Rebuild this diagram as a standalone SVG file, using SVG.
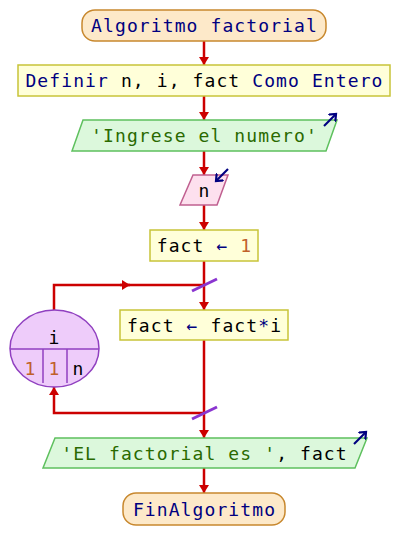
<svg xmlns="http://www.w3.org/2000/svg" width="400" height="558" viewBox="0 0 400 558">
<style>
text{font-family:"DejaVu Sans Mono","Liberation Mono",monospace;font-size:18px;letter-spacing:1.1px;text-anchor:middle;fill:#000}
.kw{fill:#000080}
.str{fill:#2a6a00}
.num{fill:#c0602a}
.term{fill:#fde9c9;stroke:#c8882e;stroke-width:1.5}
.proc{fill:#ffffd9;stroke:#c8c438;stroke-width:1.5}
.out{fill:#dcf8dc;stroke:#5ec05e;stroke-width:1.5}
.inp{fill:#fde0ee;stroke:#c06090;stroke-width:1.5}
.loop{fill:#eeccfa;stroke:#9040c0;stroke-width:1.5}
.edge{fill:none;stroke:#cc0000;stroke-width:2.5}
.slash{stroke:#8a35d0;stroke-width:3}
.icon{stroke:#000080;stroke-width:2.2;fill:none}
</style>
<defs>
<marker id="ah" markerUnits="userSpaceOnUse" markerWidth="12" markerHeight="10" refX="8" refY="5" orient="auto">
<path d="M0,0 L8,5 L0,10 Z" fill="#cc0000"/>
</marker>
<marker id="ih" markerUnits="userSpaceOnUse" markerWidth="10" markerHeight="10" refX="6" refY="5" orient="auto">
<path d="M0,0 L6,5 L0,10" fill="none" stroke="#000080" stroke-width="2.2"/>
</marker>
</defs>
<g id="connectors">
<line class="edge" x1="204" y1="41" x2="204" y2="65" marker-end="url(#ah)"/>
<line class="edge" x1="204" y1="96" x2="204" y2="120" marker-end="url(#ah)"/>
<line class="edge" x1="204" y1="151" x2="204" y2="175" marker-end="url(#ah)"/>
<line class="edge" x1="204" y1="205" x2="204" y2="230" marker-end="url(#ah)"/>
<line class="edge" x1="204" y1="261" x2="204" y2="310" marker-end="url(#ah)"/>
<polyline class="edge" points="54,310 54,285 204,285"/>
<line class="edge" x1="120" y1="285" x2="130" y2="285" marker-end="url(#ah)"/>
<line class="edge" x1="204" y1="340" x2="204" y2="438" marker-end="url(#ah)"/>
<polyline class="edge" points="204,413 54,413 54,387" marker-end="url(#ah)"/>
<line class="edge" x1="204" y1="468" x2="204" y2="493" marker-end="url(#ah)"/>
<line class="slash" x1="192" y1="291" x2="217" y2="279"/>
<line class="slash" x1="192" y1="419" x2="217" y2="407"/>
</g>
<g id="start">
<rect class="term" x="82" y="10" width="244" height="31" rx="13"/>
<text class="kw" x="204.5" y="32">Algoritmo factorial</text>
</g>
<g id="define">
<rect class="proc" x="18" y="65" width="372" height="31"/>
<text x="204.5" y="87"><tspan class="kw">Definir</tspan> n, i, fact <tspan class="kw">Como Entero</tspan></text>
</g>
<g id="write1">
<polygon class="out" points="83,120 337,120 326,151 72,151"/>
<text class="str" x="204.5" y="142">'Ingrese el numero'</text>
<line class="icon" x1="324" y1="126" x2="336" y2="114" marker-end="url(#ih)"/>
</g>
<g id="read">
<polygon class="inp" points="193,175 228,175 217,205 180,205"/>
<text x="204.5" y="196.5">n</text>
<line class="icon" x1="228" y1="169" x2="216" y2="181" marker-end="url(#ih)"/>
</g>
<g id="assign1">
<rect class="proc" x="150" y="230" width="108" height="31"/>
<text x="204.5" y="252">fact <tspan class="kw">←</tspan> <tspan class="num">1</tspan></text>
</g>
<g id="loop">
<ellipse class="loop" cx="54.5" cy="348.5" rx="44.5" ry="38.5"/>
<line class="loop" x1="10" y1="349" x2="99" y2="349"/>
<line class="loop" x1="43" y1="349" x2="43" y2="383"/>
<line class="loop" x1="67" y1="349" x2="67" y2="383"/>
<text x="54.5" y="343.5">i</text>
<text class="num" x="30.5" y="374.5">1</text>
<text class="num" x="54.5" y="374.5">1</text>
<text x="78.5" y="374.5">n</text>
</g>
<g id="assign2">
<rect class="proc" x="120" y="310" width="168" height="30"/>
<text x="204.5" y="331.5">fact <tspan class="kw">←</tspan> fact<tspan class="kw">*</tspan>i</text>
</g>
<g id="write2">
<polygon class="out" points="55,438 367,438 355,468 43,468"/>
<text x="204.5" y="460"><tspan class="str">'EL factorial es '</tspan>, fact</text>
<line class="icon" x1="354" y1="444" x2="366" y2="432" marker-end="url(#ih)"/>
</g>
<g id="end">
<rect class="term" x="123" y="493" width="162" height="32" rx="13"/>
<text class="kw" x="204.5" y="515.5">FinAlgoritmo</text>
</g>
</svg>
